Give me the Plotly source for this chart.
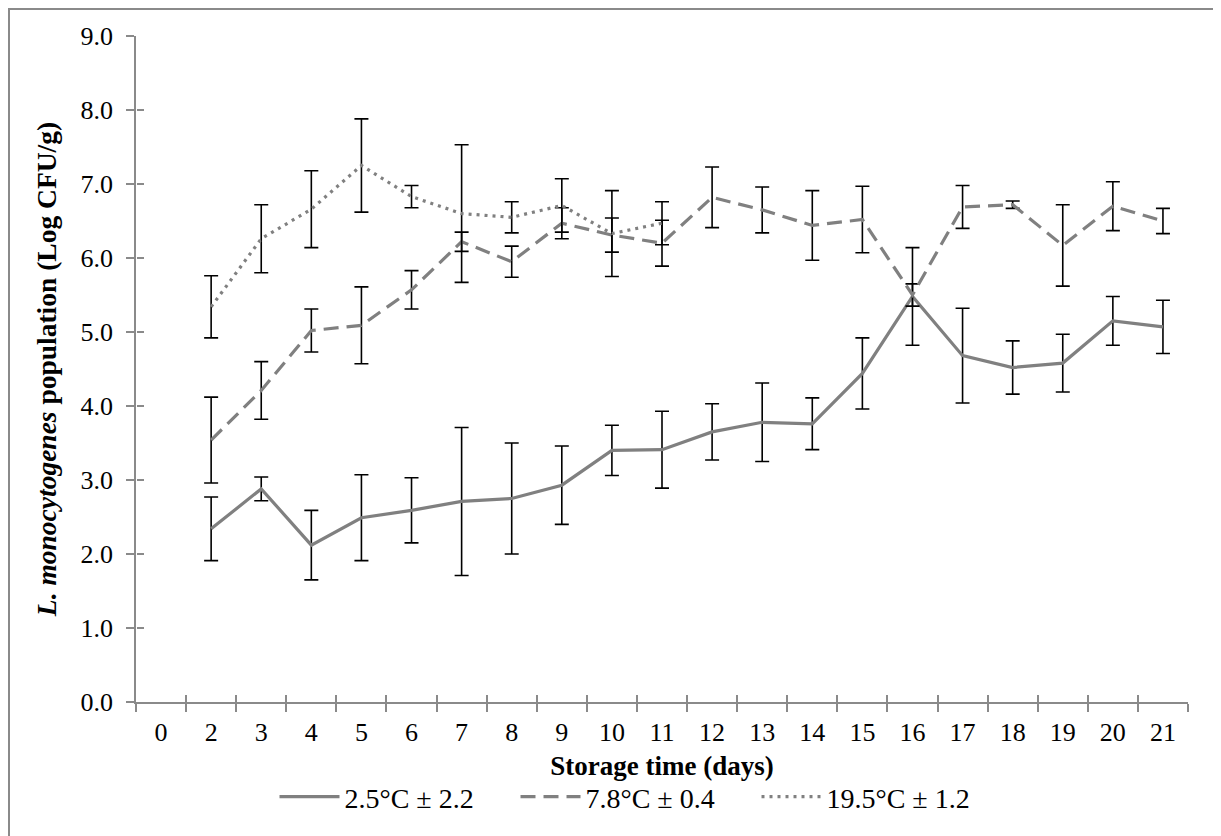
import plotly.graph_objects as go

# ---- data ----
days = ["0", "2", "3", "4", "5", "6", "7", "8", "9", "10", "11",
        "12", "13", "14", "15", "16", "17", "18", "19", "20", "21"]

days_low = days[1:]   # 2..21
mean_low = [2.34, 2.88, 2.12, 2.49, 2.59, 2.71, 2.75, 2.93, 3.40, 3.41,
            3.65, 3.78, 3.76, 4.44, 5.48, 4.68, 4.52, 4.58, 5.15, 5.07]
sd_low = [0.43, 0.16, 0.47, 0.58, 0.44, 1.00, 0.75, 0.53, 0.34, 0.52,
          0.38, 0.53, 0.35, 0.48, 0.66, 0.64, 0.36, 0.39, 0.33, 0.36]

days_mid = days[1:]   # 2..21
mean_mid = [3.54, 4.21, 5.02, 5.09, 5.57, 6.22, 5.95, 6.47, 6.31, 6.20,
            6.82, 6.65, 6.44, 6.52, 5.50, 6.69, 6.72, 6.17, 6.70, 6.50]
sd_mid = [0.58, 0.39, 0.29, 0.52, 0.26, 0.13, 0.21, 0.21, 0.23, 0.31,
          0.41, 0.31, 0.47, 0.45, 0.15, 0.29, 0.05, 0.55, 0.33, 0.17]

days_high = days[1:11]  # 2..11
mean_high = [5.34, 6.26, 6.66, 7.25, 6.83, 6.60, 6.55, 6.71, 6.33, 6.47]
sd_high = [0.42, 0.46, 0.52, 0.63, 0.15, 0.93, 0.21, 0.36, 0.58, 0.29]

series_names = ["2.5°C ± 2.2", "7.8°C ± 0.4", "19.5°C ± 1.2"]
y_ticks = [0, 1, 2, 3, 4, 5, 6, 7, 8, 9]

# ---- layout geometry (screen pixels; page body adds an 8px offset) ----
OFF = 8
W, H = 1221 - OFF, 836 - OFF
PL, PR, PT, PB = 136 - OFF, 1188 - OFF, 36 - OFF, 702 - OFF
pw, ph = PR - PL, PB - PT

FONT = "Liberation Serif, Times New Roman, serif"
LINE_GRAY = "#808080"
AXIS_GRAY = "#8a8a8a"

err_style = dict(type="data", visible=True, color="black", thickness=1.6, width=7)

fig = go.Figure()
fig.add_trace(go.Scatter(
    x=days_low, y=mean_low, mode="lines", name=series_names[0],
    line=dict(color=LINE_GRAY, width=3.2),
    error_y=dict(array=sd_low, **err_style)))
fig.add_trace(go.Scatter(
    x=days_mid, y=mean_mid, mode="lines", name=series_names[1],
    line=dict(color=LINE_GRAY, width=3.2, dash="15px,8px"),
    error_y=dict(array=sd_mid, **err_style)))
fig.add_trace(go.Scatter(
    x=days_high, y=mean_high, mode="lines", name=series_names[2],
    line=dict(color=LINE_GRAY, width=3.2, dash="3px,5px"),
    error_y=dict(array=sd_high, **err_style)))
# invisible helper trace for the inner tick overlay axes
fig.add_trace(go.Scatter(x=days, y=[None] * len(days), xaxis="x2", yaxis="y2",
                         showlegend=False, hoverinfo="skip", mode="lines"))

axis_common = dict(showgrid=False, zeroline=False, linecolor=AXIS_GRAY, linewidth=1.5,
                   tickcolor=AXIS_GRAY, tickwidth=1.5, ticklen=8,
                   tickfont=dict(family=FONT, size=26, color="black"))

fig.update_layout(
    width=W, height=H,
    margin=dict(l=PL, r=W - PR, t=PT, b=H - PB, autoexpand=False),
    paper_bgcolor="white", plot_bgcolor="white",
    font=dict(family=FONT, color="black"),
    xaxis=dict(type="category", categoryorder="array", categoryarray=days,
               range=[-0.5, len(days) - 0.5], tickson="boundaries",
               ticks="outside", showline=True, ticklabelstandoff=6,
               title=dict(text="<b>Storage time (days)</b>", standoff=10,
                          font=dict(family=FONT, size=27, color="black")),
               **axis_common),
    yaxis=dict(range=[0, 9], tickvals=y_ticks, tickformat=".1f", ticks="outside",
               showline=True, ticklabelstandoff=8,
               title=dict(text="<b><i>L. monocytogenes</i> population (Log CFU/g)</b>",
                          standoff=16, font=dict(family=FONT, size=27.5, color="black")),
               **axis_common),
    xaxis2=dict(type="category", categoryorder="array", categoryarray=days,
                range=[-0.5, len(days) - 0.5], tickson="boundaries",
                overlaying="x", anchor="free", position=0, side="bottom",
                ticks="inside", showticklabels=False, showline=False,
                showgrid=False, zeroline=False, tickcolor=AXIS_GRAY,
                tickwidth=1.5, ticklen=7),
    yaxis2=dict(range=[0, 9], tickvals=y_ticks, overlaying="y", anchor="free",
                position=0, side="left", ticks="inside", showticklabels=False,
                showline=False, showgrid=False, zeroline=False,
                tickcolor=AXIS_GRAY, tickwidth=1.5, ticklen=7),
    legend=dict(orientation="h", x=(636 - OFF - PL) / pw, xanchor="center",
                y=(PB - (797 - OFF)) / ph, yanchor="middle",
                font=dict(family=FONT, size=28, color="black"),
                entrywidth=166, entrywidthmode="pixels",
                itemwidth=60, bgcolor="rgba(0,0,0,0)", tracegroupgap=0),
    showlegend=True,
)

# outer chart-area border
fig.add_shape(type="rect", xref="paper", yref="paper", layer="below",
              x0=(1 - PL) / pw, x1=(1217 - OFF - PL) / pw,
              y0=(PB - 845) / ph, y1=(PB - 1) / ph,
              line=dict(color=AXIS_GRAY, width=2), fillcolor="rgba(0,0,0,0)")

fig.write_html("out.html")
